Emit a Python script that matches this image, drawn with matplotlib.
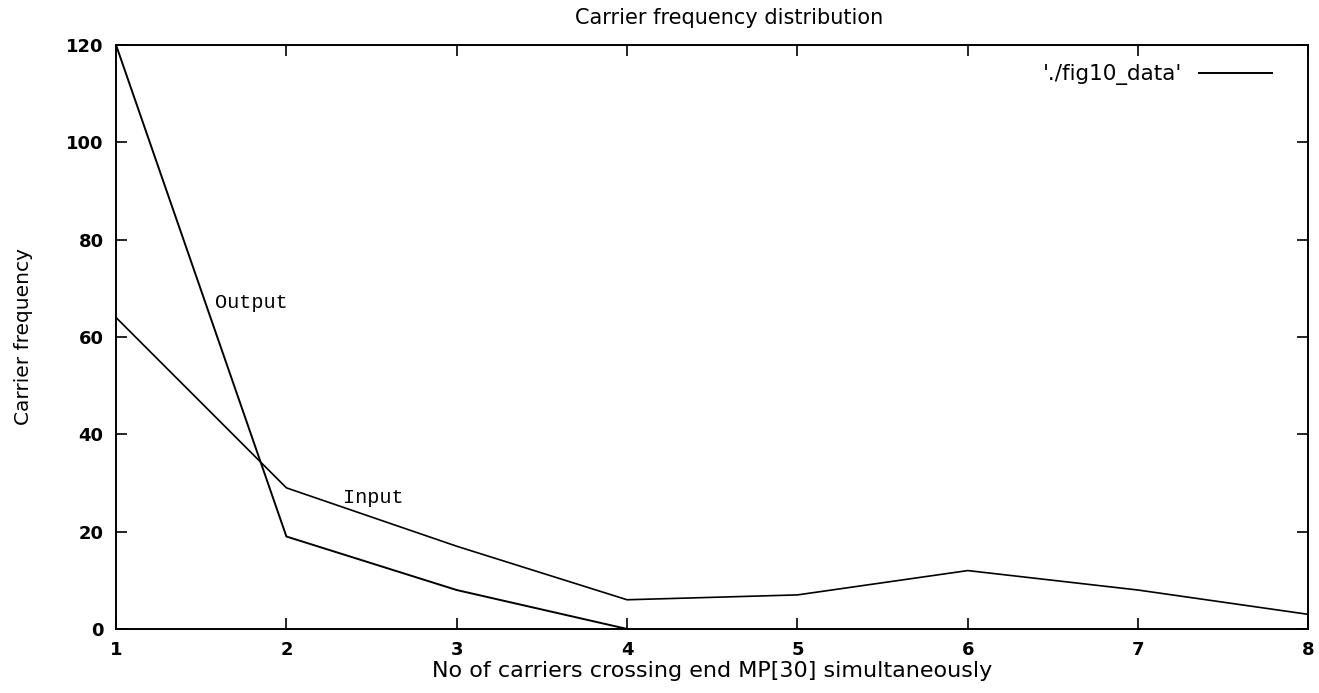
import matplotlib
matplotlib.use("Agg")
import matplotlib.pyplot as plt

# Data
carriers = [1, 2, 3, 4, 5, 6, 7, 8]
input_freq = [64, 29, 17, 6, 7, 12, 8, 3]
output_carriers = [1, 2, 3, 4]
output_freq = [120, 19, 8, 0]

x_ticks = [1, 2, 3, 4, 5, 6, 7, 8]
y_ticks = [0, 20, 40, 60, 80, 100, 120]

plt.rcParams["font.family"] = ["DejaVu Sans"]

fig = plt.figure(figsize=(13.19, 6.93), dpi=100, facecolor="white")
ax = fig.add_axes([0.088, 0.0924, 0.904, 0.8426])

ax.plot(output_carriers, output_freq, color="black", lw=1.4,
        label="'./fig10_data'")
ax.plot(carriers, input_freq, color="black", lw=1.2)

ax.text(1.58, 67, "Output", family="Liberation Mono", fontsize=14.5, va="center")
ax.text(2.33, 27.1, "Input", family="Liberation Mono", fontsize=14.5, va="center")

ax.set_xlim(1, 8)
ax.set_ylim(0, 120)
ax.set_xticks(x_ticks)
ax.set_yticks(y_ticks)
ax.tick_params(direction="in", top=True, right=True, length=8, width=1.2,
               labelsize=13, pad=9)
for lbl in ax.get_xticklabels() + ax.get_yticklabels():
    lbl.set_fontweight("bold")
for sp in ax.spines.values():
    sp.set_linewidth(1.4)

ax.set_title("Carrier frequency distribution", fontsize=15, pad=15,
             x=0.514)
ax.set_xlabel("No of carriers crossing end MP[30] simultaneously", fontsize=16,
              labelpad=1)
ax.set_ylabel("Carrier frequency", fontsize=14.5, labelpad=24)

leg = ax.legend(loc="upper right", frameon=False, fontsize=15.5,
                handlelength=3.4, markerfirst=False, handletextpad=0.8,
                bbox_to_anchor=(0.986, 1.0))

fig.savefig("out.png", dpi=100, facecolor="white")
